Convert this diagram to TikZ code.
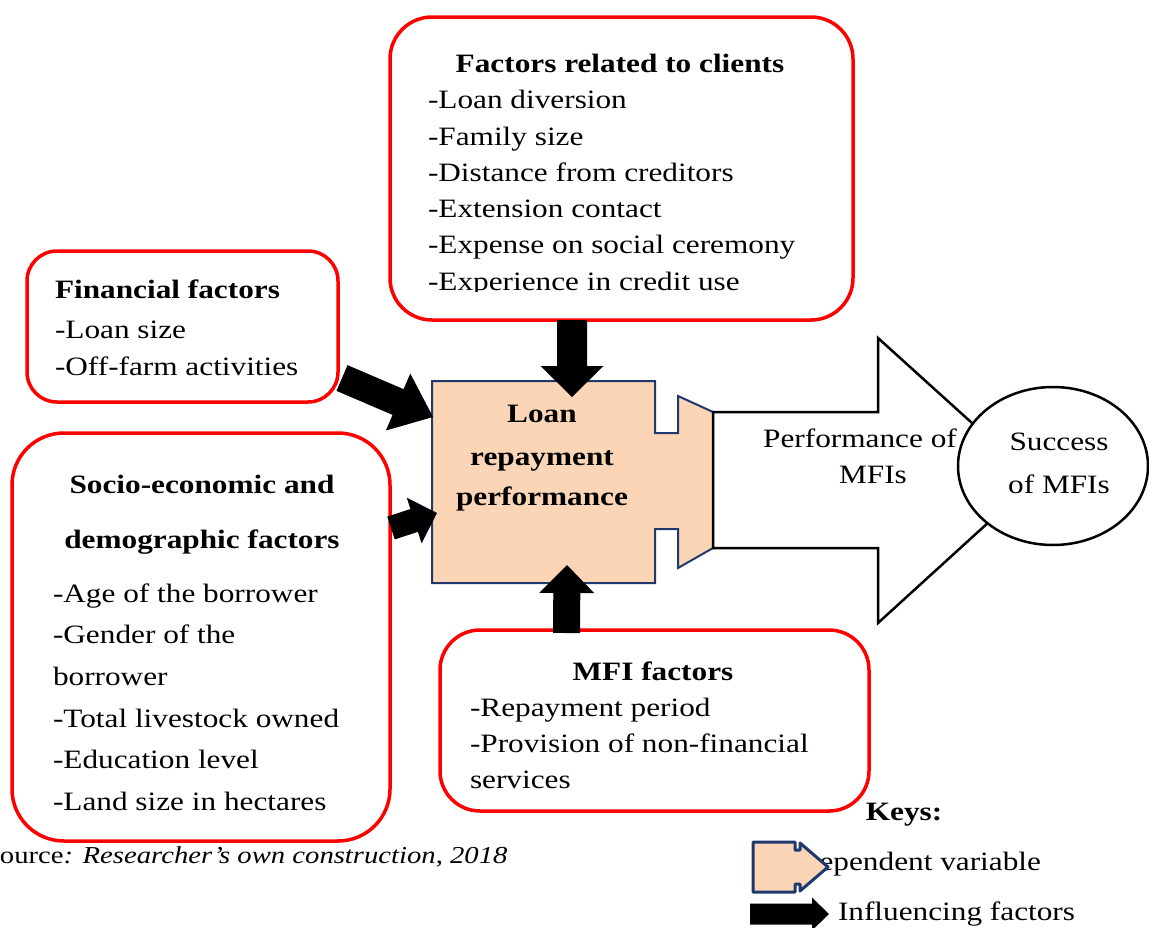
\documentclass[tikz,border=0pt]{standalone}
\usepackage{fontspec}
\setmainfont{Liberation Serif}[FakeStretch=1.18]
\usetikzlibrary{calc}
\definecolor{peach}{RGB}{251,213,181}
\definecolor{navy}{RGB}{31,56,110}
\newcommand\blockarrow[5]{%
  \coordinate (hb) at ($(#2)!#5!(#1)$);
  \fill[black] ($(#1)!#3!90:(#2)$) -- ($(hb)!#3!90:(#2)$) -- ($(hb)!#4!90:(#2)$) -- (#2)
    -- ($(hb)!#4!-90:(#2)$) -- ($(hb)!#3!-90:(#2)$) -- ($(#1)!#3!-90:(#2)$) -- cycle;}
\begin{document}
\begin{tikzpicture}[x=1pt,y=-1pt,
  every node/.style={inner sep=0pt, outer sep=0pt},
  txt/.style={anchor=base west, font=\fontsize{26.5}{36}\selectfont},
  ctxt/.style={anchor=base, font=\fontsize{26.5}{36}\selectfont},
  ttl/.style={anchor=base, font=\fontsize{26.5}{36}\selectfont\bfseries},
  ttlw/.style={anchor=base west, font=\fontsize{26.5}{36}\selectfont\bfseries},
  redbox/.style={draw=red, line width=3.5pt}]
\useasboundingbox (0,0) rectangle (1149,927);

% red boxes
\draw[redbox, rounded corners=42pt] (390,17) rectangle (853,320);
\draw[redbox, rounded corners=30pt] (27,251) rectangle (338,402);
\draw[redbox, rounded corners=52pt] (12,433) rectangle (390,841);
\draw[redbox, rounded corners=40pt] (440,630) rectangle (869,811);

% central puzzle shape (dependent variable)
\draw[navy, line width=2pt, fill=peach, line join=miter]
  (432,381) -- (655,381) -- (655,433) -- (678,433) -- (678,396) -- (713,412)
  -- (713,548) -- (678,568) -- (678,529) -- (655,529) -- (655,583) -- (432,583) -- cycle;

% big arrow
\draw[black, line width=2.5pt, fill=white, line join=miter]
  (713,412) -- (878,412) -- (878,338) -- (1035,480) -- (878,623) -- (878,548) -- (713,548) -- cycle;
\draw[black, line width=2.5pt, fill=white] (1053,466) ellipse [x radius=95, y radius=79];

% influencing arrows
\coordinate (a1s) at (572,320); \coordinate (a1e) at (572,397);
\coordinate (a2s) at (342,378); \coordinate (a2e) at (433,417);
\coordinate (a3s) at (391,528); \coordinate (a3e) at (437,513);
\coordinate (a4s) at (566.5,633); \coordinate (a4e) at (567,565);
\blockarrow{a1s}{a1e}{15pt}{31.5pt}{31pt}
\blockarrow{a2s}{a2e}{14pt}{31pt}{38pt}
\blockarrow{a3s}{a3e}{12pt}{24pt}{24pt}
\blockarrow{a4s}{a4e}{13.5pt}{27.5pt}{28pt}

% top box text
\node[ttl] (ct) at (620,72) {Factors related to clients};
\node[txt] (c1) at (428,108) {-Loan diversion};
\node[txt] (c2) at (428,145) {-Family size};
\node[txt] (c3) at (428,181) {-Distance from creditors};
\node[txt] (c4) at (428,217) {-Extension contact};
\node[txt] (c5) at (428,253) {-Expense on social ceremony};
\begin{scope}
  \clip (392,220) rectangle (851,291);
  \node[txt] (c6) at (428,290) {-Experience in credit use};
\end{scope}

% financial
\node[ttlw] (ft) at (55,298) {Financial factors};
\node[txt] (f1) at (55,338) {-Loan size};
\node[txt] (f2) at (55,375) {-Off-farm activities};

% socio-economic
\node[ttl] (st1) at (202,493) {Socio-economic and};
\node[ttl] (st2) at (202,548) {demographic factors};
\node[txt] (s1) at (53,602) {-Age of the borrower};
\node[txt] (s2) at (53,643) {-Gender of the};
\node[txt] (s3) at (53,685) {borrower};
\node[txt] (s4) at (53,727) {-Total livestock owned};
\node[txt] (s5) at (53,768) {-Education level};
\node[txt] (s6) at (53,810) {-Land size in hectares};

% MFI
\node[ttl] (mt) at (653,680) {MFI factors};
\node[txt] (m1) at (470,716) {-Repayment period};
\node[txt] (m2) at (470,752) {-Provision of non-financial};
\node[txt] (m3) at (470,788) {services};

% centre
\node[ttl] (l1) at (542,422) {Loan};
\node[ttl] (l2) at (542,465) {repayment};
\node[ttl] (l3) at (542,505) {performance};

\node[ctxt] (p1) at (860,447) {Performance of};
\node[ctxt] (p2) at (873,483) {MFIs};
\node[ctxt] (u1) at (1059,450) {Success};
\node[ctxt] (u2) at (1059,493) {of MFIs};

% source
\node[anchor=base west, font=\fontsize{24.3}{33}\selectfont] (src) at (-16,863) {Source\textit{: Researcher’s own construction, 2018}};

% keys
\node[ttl] (keys) at (904,820) {Keys:};
\node[txt] (kd) at (797,870) {Dependent variable};
\draw[navy, line width=3pt, fill=peach, line join=round]
  (753,842) -- (795,842) -- (795,850) -- (800,850) -- (800,843) -- (828,867)
  -- (800,891) -- (800,884) -- (795,884) -- (795,892) -- (753,892) -- cycle;
\coordinate (k1) at (750,914); \coordinate (k2) at (829,914);
\blockarrow{k1}{k2}{10.5pt}{16.5pt}{17pt}
\node[txt] (ki) at (838,920) {Influencing factors};
\end{tikzpicture}
\end{document}
